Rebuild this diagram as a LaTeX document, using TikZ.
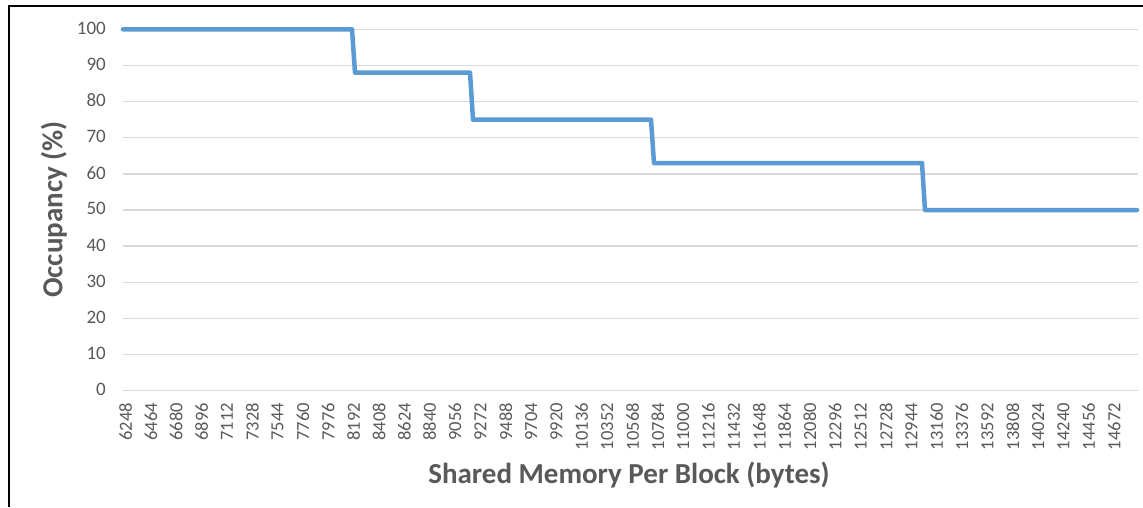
\documentclass[tikz,border=0pt]{standalone}
\usepackage{fontspec}
\setmainfont{Carlito}
\definecolor{series}{HTML}{5B9BD5}
\definecolor{gridgray}{HTML}{D9D9D9}
\definecolor{labelgray}{HTML}{595959}
\tikzset{
  gridline/.style={draw=gridgray, line width=1.5},
  ytick/.style={anchor=east, inner sep=0pt, text=labelgray, font=\fontsize{19}{19}\selectfont},
  xtick/.style={anchor=east, rotate=90, inner sep=0pt, text=labelgray, font=\fontsize{18.5}{18.5}\selectfont},
  axistitle/.style={inner sep=0pt, text=labelgray, font=\fontsize{29}{29}\selectfont\bfseries},
  seriesline/.style={draw=series, line width=4.5, line join=round, line cap=round},
}
\begin{document}
\begin{tikzpicture}[x=1pt, y=-1pt]
  % canvas (1 unit = 1 px, y pointing down)
  \useasboundingbox (0,0) rectangle (1143,507);
  \fill[white] (0,0) rectangle (1143,507);
  \draw[black, line width=2] (8.5,507) -- (8.5,5.5) -- (1143,5.5);

  % horizontal gridlines and value labels
  \foreach \v in {0,10,...,100} {
    \draw[gridline] (123,{390.7-3.614*\v}) -- (1138,{390.7-3.614*\v});
    \node[ytick] (ylab\v) at (106,{390.7-3.614*\v-1.2}) {\v};
  }

  % category labels along the bottom
  \foreach \i in {0,...,39} {
    \pgfmathtruncatemacro\lab{6248+216*\i}
    \node[xtick] (xlab\i) at ({125.5+25.35*\i},403) {\lab};
  }

  % occupancy step curve
  \draw[seriesline]
    (123,{390.7-3.614*100}) -- (352,{390.7-3.614*100})
    -- (355,{390.7-3.614*88}) -- (470,{390.7-3.614*88})
    -- (473,{390.7-3.614*75}) -- (651,{390.7-3.614*75})
    -- (654,{390.7-3.614*63}) -- (922,{390.7-3.614*63})
    -- (925,{390.7-3.614*50}) -- (1137,{390.7-3.614*50});

  % axis titles
  \node[axistitle, rotate=90] (ytitle) at (54,209.5) {Occupancy (\%)};
  \node[axistitle, anchor=base] (xtitle) at (629,483) {Shared Memory Per Block (bytes)};
\end{tikzpicture}
\end{document}
